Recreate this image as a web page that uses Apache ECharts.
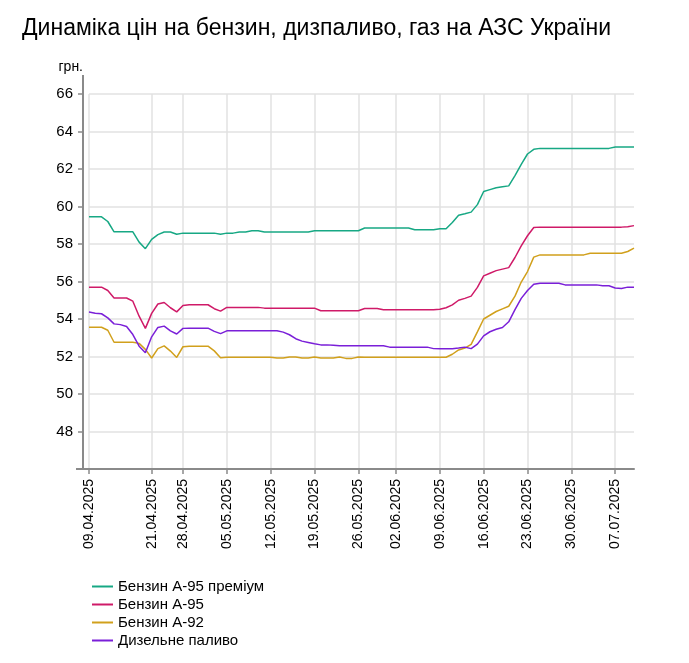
<!DOCTYPE html>
<html>
<head>
<meta charset="utf-8">
<script src="https://cdn.jsdelivr.net/npm/echarts@6/dist/echarts.min.js"></script>
<style>
html, body { margin: 0; padding: 0; background: #fff; }
#chart { width: 689px; height: 663px; }
</style>
</head>
<body>
<div id="chart"></div>
<script>
// дати спостережень (деяких днів у даних немає)
var dates = [
    '09.04.2025', '10.04.2025', '11.04.2025', '12.04.2025', '15.04.2025', '16.04.2025', '17.04.2025', '18.04.2025',
    '19.04.2025', '20.04.2025', '21.04.2025', '22.04.2025', '23.04.2025', '24.04.2025', '25.04.2025', '28.04.2025',
    '29.04.2025', '30.04.2025', '01.05.2025', '02.05.2025', '03.05.2025', '04.05.2025', '05.05.2025', '06.05.2025',
    '07.05.2025', '08.05.2025', '09.05.2025', '10.05.2025', '11.05.2025', '12.05.2025', '13.05.2025', '14.05.2025',
    '15.05.2025', '16.05.2025', '17.05.2025', '18.05.2025', '19.05.2025', '20.05.2025', '21.05.2025', '22.05.2025',
    '23.05.2025', '24.05.2025', '25.05.2025', '26.05.2025', '27.05.2025', '28.05.2025', '29.05.2025', '30.05.2025',
    '31.05.2025', '02.06.2025', '03.06.2025', '04.06.2025', '05.06.2025', '06.06.2025', '07.06.2025', '08.06.2025',
    '09.06.2025', '10.06.2025', '11.06.2025', '12.06.2025', '13.06.2025', '14.06.2025', '15.06.2025', '16.06.2025',
    '17.06.2025', '18.06.2025', '19.06.2025', '20.06.2025', '21.06.2025', '22.06.2025', '23.06.2025', '24.06.2025',
    '25.06.2025', '26.06.2025', '27.06.2025', '28.06.2025', '29.06.2025', '30.06.2025', '01.07.2025', '02.07.2025',
    '03.07.2025', '04.07.2025', '05.07.2025', '06.07.2025', '07.07.2025', '08.07.2025', '09.07.2025', '10.07.2025'
];

var seriesNames = ['Бензин А-95 преміум', 'Бензин А-95', 'Бензин А-92', 'Дизельне паливо'];
var seriesColors = ['#17a884', '#cf1a68', '#d1a01c', '#7a1fd8'];

var premium95 = [
    59.45, 59.45, 59.45, 59.2, 58.65, 58.65, 58.65, 58.65, 58.1, 57.75,
    58.25, 58.5, 58.64, 58.64, 58.52, 58.58, 58.58, 58.58, 58.58, 58.58,
    58.58, 58.52, 58.58, 58.58, 58.64, 58.64, 58.71, 58.71, 58.64, 58.64,
    58.64, 58.64, 58.64, 58.64, 58.64, 58.64, 58.71, 58.71, 58.71, 58.71,
    58.71, 58.71, 58.71, 58.71, 58.85, 58.85, 58.85, 58.85, 58.85, 58.85,
    58.85, 58.85, 58.76, 58.76, 58.76, 58.76, 58.81, 58.81, 59.15, 59.53,
    59.61, 59.7, 60.1, 60.8, 60.9, 61.0, 61.05, 61.1, 61.65, 62.25,
    62.8, 63.05, 63.1, 63.1, 63.1, 63.1, 63.1, 63.1, 63.1, 63.1,
    63.1, 63.1, 63.1, 63.1, 63.17, 63.17, 63.17, 63.17
];

var a95 = [
    55.7, 55.7, 55.7, 55.52, 55.12, 55.12, 55.12, 54.95, 54.15, 53.5,
    54.3, 54.8, 54.88, 54.6, 54.38, 54.72, 54.76, 54.76, 54.76, 54.76,
    54.55, 54.42, 54.62, 54.62, 54.62, 54.62, 54.62, 54.62, 54.58, 54.58,
    54.58, 54.58, 54.58, 54.58, 54.58, 54.58, 54.58, 54.44, 54.44, 54.44,
    54.44, 54.44, 54.44, 54.44, 54.56, 54.56, 54.56, 54.49, 54.49, 54.49,
    54.49, 54.49, 54.49, 54.49, 54.49, 54.49, 54.52, 54.6, 54.75, 55.0,
    55.1, 55.22, 55.69, 56.3, 56.44, 56.58, 56.66, 56.74, 57.28, 57.9,
    58.44, 58.88, 58.9, 58.9, 58.9, 58.9, 58.9, 58.9, 58.9, 58.9,
    58.9, 58.9, 58.9, 58.9, 58.9, 58.9, 58.92, 58.98
];

var a92 = [
    53.56, 53.56, 53.56, 53.4, 52.76, 52.76, 52.76, 52.76, 52.7, 52.38,
    51.92, 52.42, 52.57, 52.29, 51.95, 52.52, 52.55, 52.55, 52.55, 52.55,
    52.3, 51.93, 51.96, 51.96, 51.96, 51.96, 51.96, 51.96, 51.96, 51.96,
    51.92, 51.92, 51.97, 51.97, 51.92, 51.92, 51.97, 51.92, 51.92, 51.92,
    51.97, 51.9, 51.9, 51.97, 51.96, 51.96, 51.96, 51.96, 51.96, 51.96,
    51.96, 51.96, 51.96, 51.96, 51.96, 51.96, 51.96, 51.96, 52.12, 52.35,
    52.45, 52.65, 53.31, 54.0, 54.2, 54.4, 54.54, 54.68, 55.22, 55.97,
    56.53, 57.3, 57.42, 57.42, 57.42, 57.42, 57.42, 57.42, 57.42, 57.42,
    57.51, 57.51, 57.51, 57.51, 57.51, 57.51, 57.6, 57.78
];

var diesel = [
    54.37, 54.31, 54.28, 54.06, 53.74, 53.7, 53.6, 53.17, 52.55, 52.2,
    53.05, 53.55, 53.62, 53.37, 53.2, 53.5, 53.51, 53.51, 53.51, 53.51,
    53.34, 53.22, 53.37, 53.37, 53.37, 53.37, 53.37, 53.37, 53.37, 53.37,
    53.37, 53.3, 53.16, 52.95, 52.82, 52.75, 52.68, 52.62, 52.62, 52.6,
    52.57, 52.57, 52.57, 52.57, 52.57, 52.57, 52.57, 52.57, 52.5, 52.5,
    52.5, 52.5, 52.5, 52.5, 52.5, 52.42, 52.41, 52.41, 52.41, 52.45,
    52.5, 52.42, 52.66, 53.1, 53.32, 53.45, 53.55, 53.85, 54.5, 55.1,
    55.52, 55.85, 55.91, 55.91, 55.91, 55.91, 55.82, 55.82, 55.82, 55.82,
    55.82, 55.82, 55.77, 55.77, 55.65, 55.63, 55.7, 55.7
];

var allValues = [premium95, a95, a92, diesel];

// підпис лише першої дати та понеділків
function isShownDate(index, value) {
    if (index === 0) return true;
    var p = value.split('.');
    return new Date(+p[2], +p[1] - 1, +p[0]).getDay() === 1;
}

var myChart = echarts.init(document.getElementById('chart'));

var option = {
    animation: false,
    textStyle: { fontFamily: 'Liberation Sans, Arial, sans-serif' },
    title: {
        text: 'Динаміка цін на бензин, дизпаливо, газ на АЗС України',
        left: 22,
        top: 17,
        padding: 0,
        textStyle: { fontSize: 23, fontWeight: 'normal', color: '#000' }
    },
    legend: {
        orient: 'vertical',
        left: 86,
        top: 574,
        itemWidth: 21,
        itemHeight: 14,
        itemGap: 3,
        itemTextGap: 7,
        itemStyle: { opacity: 0 },
        textStyle: { fontSize: 15, color: '#000' },
        data: seriesNames
    },
    grid: {
        left: 89,
        right: 55,
        top: 94,
        bottom: 194
    },
    xAxis: {
        type: 'category',
        boundaryGap: false,
        data: dates,
        axisLine: {
            lineStyle: { color: '#8a8a8a', width: 2 },
            symbol: ['rect', 'none'],
            symbolSize: [2, 13],
            symbolOffset: [-6.5, 0]
        },
        axisTick: { interval: isShownDate, length: 5, lineStyle: { color: '#8a8a8a', width: 1.5 } },
        axisLabel: {
            interval: isShownDate,
            rotate: 90,
            margin: 10,
            fontSize: 14,
            color: '#000'
        },
        splitLine: { show: true, interval: isShownDate, lineStyle: { color: '#e2e2e2', width: 1.5 } }
    },
    yAxis: {
        type: 'value',
        min: 46,
        max: 66,
        interval: 2,
        offset: 6,
        name: 'грн.',
        nameGap: 20,
        nameTextStyle: { fontSize: 14, color: '#000', align: 'right' },
        axisLine: {
            show: true,
            lineStyle: { color: '#8a8a8a', width: 2 },
            symbol: ['none', 'rect'],
            symbolSize: [2, 19],
            symbolOffset: [0, 9.5]
        },
        axisTick: { show: true, length: 5, lineStyle: { color: '#8a8a8a', width: 1.5 } },
        axisLabel: {
            margin: 10,
            fontSize: 15,
            color: '#000',
            formatter: function (v) { return v === 46 ? '' : String(v); }
        },
        splitLine: { lineStyle: { color: '#e2e2e2', width: 1.5 } }
    },
    series: seriesNames.map(function (name, i) {
        return {
            name: name,
            type: 'line',
            data: allValues[i],
            symbol: 'none',
            color: seriesColors[i],
            lineStyle: { width: 1.5 }
        };
    })
};

myChart.setOption(option);
</script>
</body>
</html>
